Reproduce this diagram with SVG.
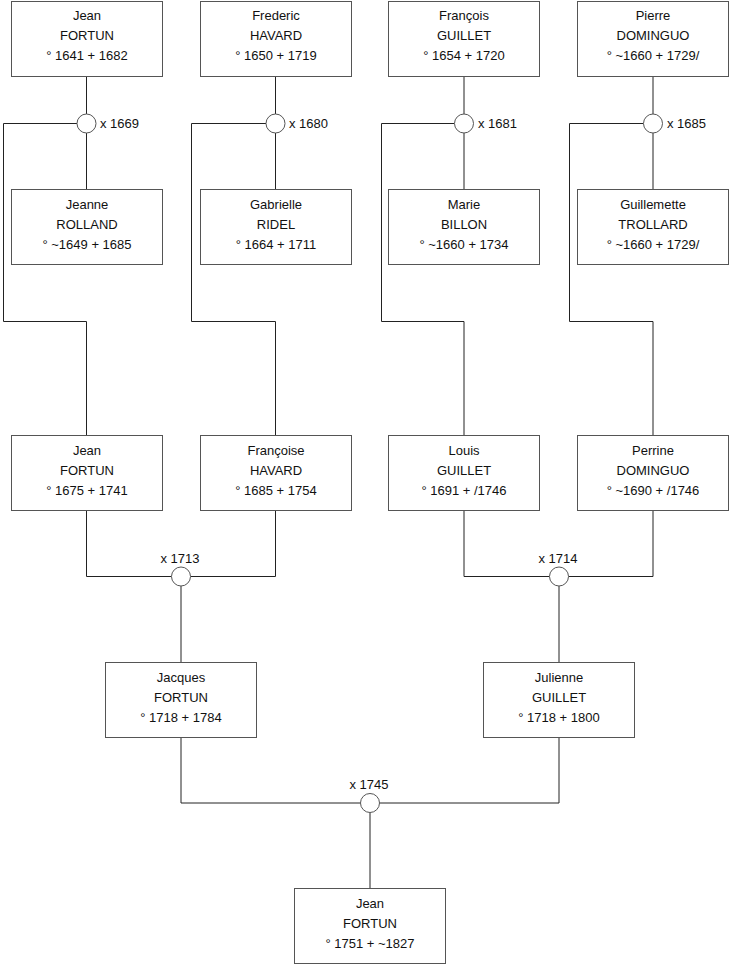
<svg xmlns="http://www.w3.org/2000/svg" width="740" height="975" viewBox="0 0 740 975">
<style>
.box{fill:#fff;stroke:#555;stroke-width:1}
.lk{fill:none;stroke:#222;stroke-width:1}
.m{fill:#fff;stroke:#555;stroke-width:1}
text{font-family:"Liberation Sans",Arial,sans-serif;font-size:13px;fill:#111}
.c{text-anchor:middle}
</style>
<rect width="740" height="975" fill="#fff"/>
<g id="connectors">
<path class="lk" d="M86.5 76.5V114M86.5 133V189.5"/>
<path class="lk" d="M77 123.5H3.5V321.5H86.5V435.5"/>
<path class="lk" d="M275.5 76.5V114M275.5 133V189.5"/>
<path class="lk" d="M266 123.5H191.5V321.5H275.5V435.5"/>
<path class="lk" d="M464 76.5V114M464 133V189.5"/>
<path class="lk" d="M454.5 123.5H381.5V321.5H464V435.5"/>
<path class="lk" d="M653 76.5V114M653 133V189.5"/>
<path class="lk" d="M643.5 123.5H569.5V321.5H653V435.5"/>
<path class="lk" d="M86.5 510.5V576.5H171.5M190.5 576.5H275.5V510.5M181 586V662.5"/>
<path class="lk" d="M464 510.5V576.5H549.5M568.5 576.5H653V510.5M559 586V662.5"/>
<path class="lk" d="M181 737.5V803H360.5M379.5 803H559V737.5M370 812.5V888.5"/>
</g>
<g id="m1669"><circle class="m" cx="86.5" cy="123.5" r="9.5"/><text x="100" y="128">x 1669</text></g>
<g id="m1680"><circle class="m" cx="275.5" cy="123.5" r="9.5"/><text x="289" y="128">x 1680</text></g>
<g id="m1681"><circle class="m" cx="464" cy="123.5" r="9.5"/><text x="478" y="128">x 1681</text></g>
<g id="m1685"><circle class="m" cx="653" cy="123.5" r="9.5"/><text x="667" y="128">x 1685</text></g>
<g id="m1713"><circle class="m" cx="181" cy="576.5" r="9.5"/><text class="c" x="180" y="563">x 1713</text></g>
<g id="m1714"><circle class="m" cx="559" cy="576.5" r="9.5"/><text class="c" x="558" y="563">x 1714</text></g>
<g id="m1745"><circle class="m" cx="370" cy="803" r="9.5"/><text class="c" x="369" y="789">x 1745</text></g>
<g id="p1"><rect class="box" x="11.5" y="1.5" width="151" height="75"/><text class="c" x="87" y="20">Jean</text><text class="c" x="87" y="40">FORTUN</text><text class="c" x="87" y="60">° 1641 + 1682</text></g>
<g id="p2"><rect class="box" x="200.5" y="1.5" width="151" height="75"/><text class="c" x="276" y="20">Frederic</text><text class="c" x="276" y="40">HAVARD</text><text class="c" x="276" y="60">° 1650 + 1719</text></g>
<g id="p3"><rect class="box" x="388.5" y="1.5" width="151" height="75"/><text class="c" x="464" y="20">François</text><text class="c" x="464" y="40">GUILLET</text><text class="c" x="464" y="60">° 1654 + 1720</text></g>
<g id="p4"><rect class="box" x="577.5" y="1.5" width="151" height="75"/><text class="c" x="653" y="20">Pierre</text><text class="c" x="653" y="40">DOMINGUO</text><text class="c" x="653" y="60">° ~1660 + 1729/</text></g>
<g id="p5"><rect class="box" x="11.5" y="189.5" width="151" height="75"/><text class="c" x="87" y="209">Jeanne</text><text class="c" x="87" y="229">ROLLAND</text><text class="c" x="87" y="249">° ~1649 + 1685</text></g>
<g id="p6"><rect class="box" x="200.5" y="189.5" width="151" height="75"/><text class="c" x="276" y="209">Gabrielle</text><text class="c" x="276" y="229">RIDEL</text><text class="c" x="276" y="249">° 1664 + 1711</text></g>
<g id="p7"><rect class="box" x="388.5" y="189.5" width="151" height="75"/><text class="c" x="464" y="209">Marie</text><text class="c" x="464" y="229">BILLON</text><text class="c" x="464" y="249">° ~1660 + 1734</text></g>
<g id="p8"><rect class="box" x="577.5" y="189.5" width="151" height="75"/><text class="c" x="653" y="209">Guillemette</text><text class="c" x="653" y="229">TROLLARD</text><text class="c" x="653" y="249">° ~1660 + 1729/</text></g>
<g id="p9"><rect class="box" x="11.5" y="435.5" width="151" height="75"/><text class="c" x="87" y="455">Jean</text><text class="c" x="87" y="475">FORTUN</text><text class="c" x="87" y="495">° 1675 + 1741</text></g>
<g id="p10"><rect class="box" x="200.5" y="435.5" width="151" height="75"/><text class="c" x="276" y="455">Françoise</text><text class="c" x="276" y="475">HAVARD</text><text class="c" x="276" y="495">° 1685 + 1754</text></g>
<g id="p11"><rect class="box" x="388.5" y="435.5" width="151" height="75"/><text class="c" x="464" y="455">Louis</text><text class="c" x="464" y="475">GUILLET</text><text class="c" x="464" y="495">° 1691 + /1746</text></g>
<g id="p12"><rect class="box" x="577.5" y="435.5" width="151" height="75"/><text class="c" x="653" y="455">Perrine</text><text class="c" x="653" y="475">DOMINGUO</text><text class="c" x="653" y="495">° ~1690 + /1746</text></g>
<g id="p13"><rect class="box" x="105.5" y="662.5" width="151" height="75"/><text class="c" x="181" y="682">Jacques</text><text class="c" x="181" y="702">FORTUN</text><text class="c" x="181" y="722">° 1718 + 1784</text></g>
<g id="p14"><rect class="box" x="483.5" y="662.5" width="151" height="75"/><text class="c" x="559" y="682">Julienne</text><text class="c" x="559" y="702">GUILLET</text><text class="c" x="559" y="722">° 1718 + 1800</text></g>
<g id="p15"><rect class="box" x="294.5" y="888.5" width="151" height="75"/><text class="c" x="370" y="908">Jean</text><text class="c" x="370" y="928">FORTUN</text><text class="c" x="370" y="948">° 1751 + ~1827</text></g>
</svg>
